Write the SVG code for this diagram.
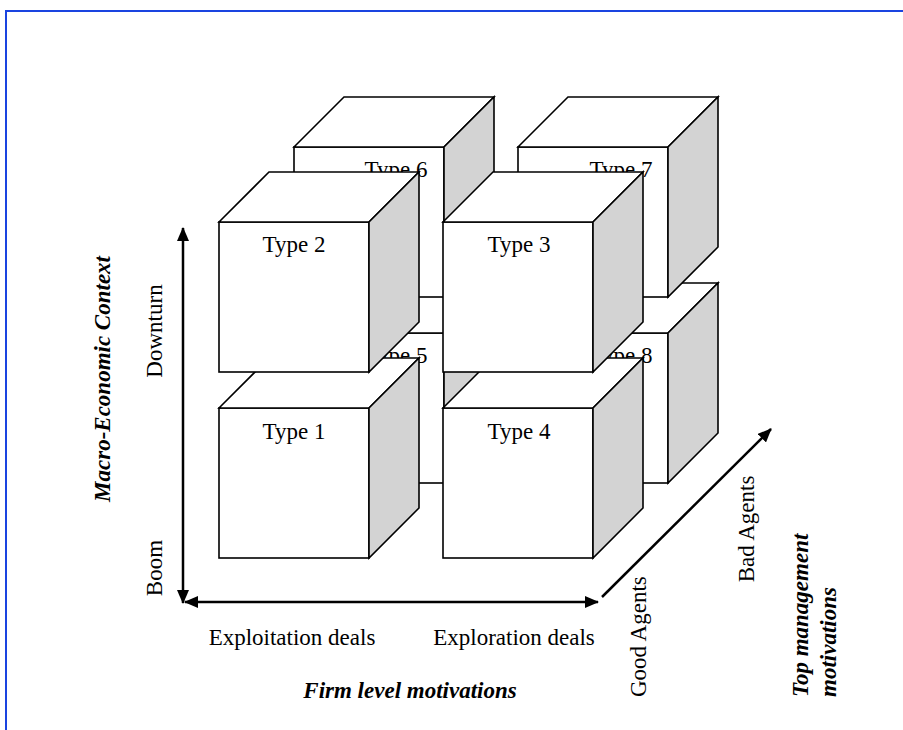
<svg xmlns="http://www.w3.org/2000/svg" xmlns:xlink="http://www.w3.org/1999/xlink" width="903" height="730" viewBox="0 0 903 730">
<style>
.face{fill:#ffffff;stroke:#000;stroke-width:1.6;stroke-linejoin:miter}
.side{fill:#d3d3d3;stroke:#000;stroke-width:1.6}
.lbl{font-family:"Liberation Serif","Times New Roman",serif;font-size:23px;fill:#000}
.ttl{font-family:"Liberation Serif","Times New Roman",serif;font-size:23px;font-weight:bold;font-style:italic;fill:#000}
.ax{stroke:#000;stroke-width:2.5;fill:none}
</style>
<defs>
<g id="cube">
<rect class="face" x="0" y="0" width="150" height="150"/>
<polygon class="face" points="0,0 50,-50 200,-50 150,0"/>
<polygon class="side" points="150,0 200,-50 200,100 150,150"/>
</g>
<marker id="ah" viewBox="0 0 14 12" refX="13" refY="6" markerWidth="14" markerHeight="12" markerUnits="userSpaceOnUse" orient="auto-start-reverse">
<path d="M0,0 L14,6 L0,12 Z" fill="#000"/>
</marker>
</defs>
<rect width="903" height="730" fill="#fff"/>
<path d="M6,730 V11 H903" fill="none" stroke="#1a44e0" stroke-width="2"/>
<g id="type5"><use xlink:href="#cube" href="#cube" transform="translate(294,333)"/><text class="lbl" x="396" y="363" text-anchor="middle">Type 5</text></g>
<g id="type8"><use xlink:href="#cube" href="#cube" transform="translate(518,333)"/><text class="lbl" x="621" y="363" text-anchor="middle">Type 8</text></g>
<g id="type6"><use xlink:href="#cube" href="#cube" transform="translate(294,147)"/><text class="lbl" x="396" y="177" text-anchor="middle">Type 6</text></g>
<g id="type7"><use xlink:href="#cube" href="#cube" transform="translate(518,147)"/><text class="lbl" x="621" y="177" text-anchor="middle">Type 7</text></g>
<g id="type1"><use xlink:href="#cube" href="#cube" transform="translate(219,408)"/><text class="lbl" x="294" y="439" text-anchor="middle">Type 1</text></g>
<g id="type4"><use xlink:href="#cube" href="#cube" transform="translate(443,408)"/><text class="lbl" x="519" y="439" text-anchor="middle">Type 4</text></g>
<g id="type2"><use xlink:href="#cube" href="#cube" transform="translate(219,222)"/><text class="lbl" x="294" y="252" text-anchor="middle">Type 2</text></g>
<g id="type3"><use xlink:href="#cube" href="#cube" transform="translate(443,222)"/><text class="lbl" x="519" y="252" text-anchor="middle">Type 3</text></g>
<g id="connectors">
<line class="ax" x1="183" y1="228" x2="183" y2="603" marker-start="url(#ah)" marker-end="url(#ah)"/>
<line class="ax" x1="185" y1="602" x2="598" y2="602" marker-start="url(#ah)" marker-end="url(#ah)"/>
<line class="ax" x1="602" y1="597" x2="771" y2="429" marker-end="url(#ah)"/>
</g>
<g id="labels">
<text class="ttl" transform="rotate(-90 110 379)" x="110" y="379" text-anchor="middle">Macro-Economic Context</text>
<text class="lbl" transform="rotate(-90 162 331)" x="162" y="331" text-anchor="middle">Downturn</text>
<text class="lbl" transform="rotate(-90 162 568)" x="162" y="568" text-anchor="middle">Boom</text>
<text class="lbl" x="292" y="645" text-anchor="middle">Exploitation deals</text>
<text class="lbl" x="514" y="645" text-anchor="middle">Exploration deals</text>
<text class="ttl" x="410" y="698" text-anchor="middle">Firm level motivations</text>
<text class="lbl" transform="rotate(-90 646 697)" x="646" y="697">Good Agents</text>
<text class="lbl" transform="rotate(-90 754 529)" x="754" y="529" text-anchor="middle">Bad Agents</text>
<text class="ttl" transform="rotate(-90 808 697)" x="808" y="697">Top management</text>
<text class="ttl" transform="rotate(-90 836 697)" x="836" y="697">motivations</text>
</g>
</svg>
